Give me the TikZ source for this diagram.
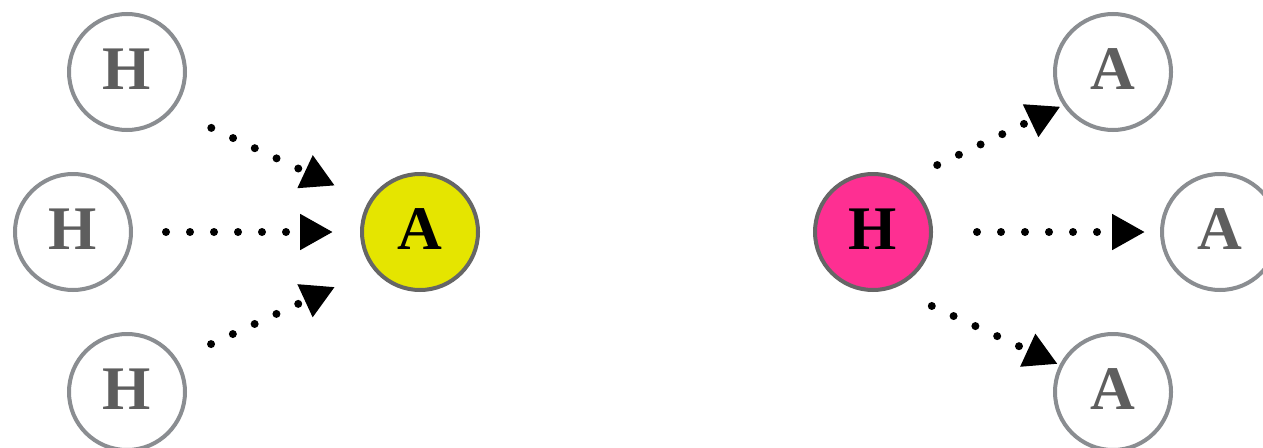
\documentclass[tikz,border=0pt]{standalone}
\usepackage{fontspec}
\setmainfont{Liberation Serif}
\usetikzlibrary{arrows.meta}
\definecolor{ringgray}{HTML}{8A8D91}
\definecolor{txtgray}{HTML}{5E5E5E}
\definecolor{darkring}{HTML}{666666}
\definecolor{yel}{HTML}{E5E500}
\definecolor{pink}{HTML}{FE2F92}
\tikzset{
  atom/.style={circle, minimum size=116pt, inner sep=0pt, outer sep=0pt, line width=4pt,
    font=\fontsize{62}{62}\selectfont\bfseries, text height=41pt, text depth=7pt},
  plain/.style={atom, draw=ringgray, fill=white, text=txtgray},
  hot/.style={atom, draw=darkring, text=black},
  conn/.style={line width=8pt, line cap=round, dash pattern=on 0pt off 24pt,
    -{Triangle[length=33pt,width=34pt]}}
}
\begin{document}
\begin{tikzpicture}[x=1pt,y=-1pt]
\useasboundingbox (0,0) rectangle (1263,447);
% left group
\node[plain] (h1) at (127,72) {H};
\node[plain] (h2) at (73,232) {H};
\node[plain] (h3) at (127,392) {H};
\node[hot, fill=yel] (a0) at (420,232) {A};
\draw[conn, shorten <=44pt, shorten >=39pt] (h1.-40) -- (a0.149.5);
\draw[conn, shorten <=35pt, shorten >=29pt] (h2) -- (a0);
\draw[conn, shorten <=39pt, shorten >=44pt] (h3.33.2) -- (a0.219);
% right group
\node[hot, fill=pink] (h0) at (873,232) {H};
\node[plain] (a1) at (1113,72) {A};
\node[plain] (a2) at (1220,232) {A};
\node[plain] (a3) at (1113,392) {A};
\draw[conn, shorten <=39pt, shorten >=5pt] (h0.60.5) -- (a1.214.7);
\draw[conn, shorten <=46pt, shorten >=17pt] (h0) -- (a2);
\draw[conn, shorten <=45pt, shorten >=4pt] (h0.288.4) -- (a3.153.7);
\end{tikzpicture}
\end{document}
